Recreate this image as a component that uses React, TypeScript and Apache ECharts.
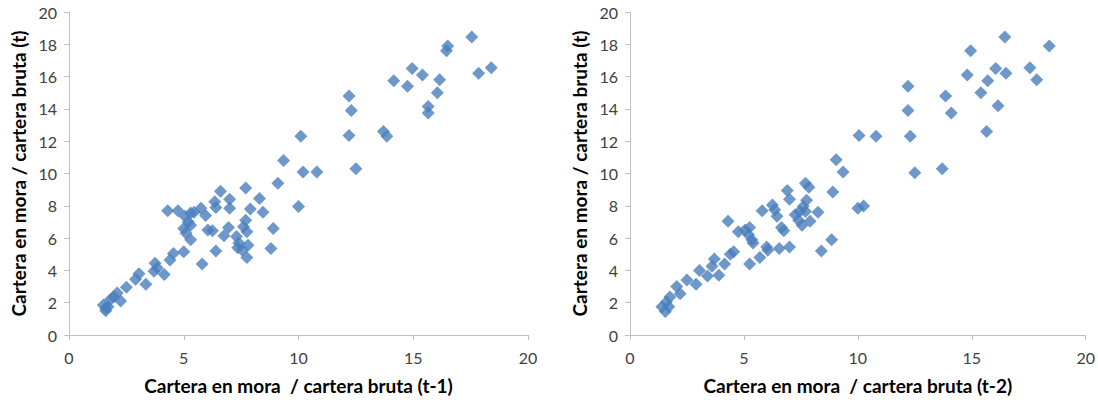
import React, { useEffect, useRef } from "react";
import * as echarts from "echarts";

const xTickLabels = ["0", "5", "10", "15", "20"];
const yTitle = "Cartera en mora / cartera bruta (t)";
const xTitleLag1 = "Cartera en mora  / cartera bruta (t-1)";
const xTitleLag2 = "Cartera en mora  / cartera bruta (t-2)";

// [x, y] pairs (t-1)
const lag1Points: [number, number][] = [
  [1.5, 1.85], [1.6, 1.5], [1.7, 1.75], [1.6, 1.65], [1.8, 2.2], [1.95, 2.35], [2.1, 2.6], [2.25, 2.1],
  [2.5, 2.95], [2.9, 3.45], [3.05, 3.8], [3.35, 3.15], [3.7, 3.95], [3.75, 4.45], [3.85, 4.15], [4.15, 3.75],
  [4.4, 4.65], [4.55, 5.05], [5.0, 5.15], [4.3, 7.7], [4.75, 7.7],
  [5.05, 7.35], [5.3, 7.55], [5.45, 7.6], [5.75, 7.85], [5.95, 7.4], [5.2, 7.0], [5.3, 6.8], [5.0, 6.6],
  [5.1, 6.3], [5.3, 5.9], [5.8, 4.4], [6.05, 6.5], [6.25, 6.45], [6.35, 8.25], [6.4, 7.9], [6.6, 8.9],
  [6.4, 5.2], [6.75, 6.15], [6.95, 6.65], [7.0, 8.4], [7.0, 7.85], [7.7, 9.1], [7.7, 7.1], [7.6, 6.7],
  [7.75, 6.4], [7.3, 6.1], [7.4, 5.7], [7.8, 5.55], [7.35, 5.4], [7.55, 5.25], [7.75, 4.8], [7.9, 7.8],
  [8.3, 8.45], [8.45, 7.6], [8.9, 6.6], [8.8, 5.35], [9.1, 9.4], [9.35, 10.8], [10.0, 7.95], [10.1, 12.3],
  [10.2, 10.1], [10.8, 10.1],
  [12.2, 14.8], [12.3, 13.9], [12.2, 12.35], [12.5, 10.3], [13.7, 12.6], [13.85, 12.3], [14.15, 15.75],
  [14.75, 15.4], [14.95, 16.5], [15.4, 16.1], [15.65, 14.15], [15.65, 13.75], [16.05, 15.0], [16.15, 15.8],
  [16.45, 17.6], [16.5, 17.9], [17.55, 18.45], [17.85, 16.2], [18.4, 16.55],
];

// [x, y] pairs (t-2)
const lag2Points: [number, number][] = [
  [1.4, 1.75], [1.55, 1.45], [1.7, 1.75], [1.6, 2.05], [1.75, 2.35], [2.05, 3.0], [2.2, 2.55], [2.5, 3.4],
  [2.9, 3.15], [3.05, 4.0], [3.4, 3.65], [3.6, 4.25], [3.7, 4.7], [3.9, 3.7], [4.15, 4.4], [4.4, 5.0],
  [4.55, 5.15], [4.3, 7.05], [4.75, 6.4], [5.05, 6.5], [5.25, 6.65], [5.2, 6.2], [5.35, 5.9], [5.4, 5.7],
  [5.25, 4.4], [5.7, 4.8], [6.0, 5.45], [6.05, 5.25], [5.8, 7.7], [6.25, 8.05], [6.35, 7.75], [6.45, 7.35],
  [6.55, 5.35], [6.65, 6.65], [6.75, 6.45], [7.0, 5.45], [6.9, 8.95], [7.0, 8.4], [7.25, 7.45], [7.4, 7.1],
  [7.45, 7.65], [7.55, 6.8], [7.6, 7.95], [7.7, 7.65], [7.75, 8.35], [7.7, 9.4], [7.85, 9.15], [7.9, 7.05],
  [8.25, 7.6], [8.4, 5.2], [8.85, 5.9], [8.9, 8.85], [9.05, 10.85], [9.35, 10.1], [10.0, 7.85], [10.25, 7.98],
  [10.05, 12.35], [10.8, 12.3],
  [12.2, 15.4], [12.2, 13.9], [12.3, 12.3], [12.5, 10.05], [13.7, 10.3], [13.85, 14.8], [14.1, 13.75],
  [14.95, 17.6], [14.8, 16.1], [15.4, 15.0], [15.7, 15.75], [15.65, 12.6], [16.05, 16.5], [16.5, 16.2],
  [16.45, 18.45], [16.15, 14.2], [17.55, 16.55], [17.85, 15.8], [18.4, 17.9],
];

const FONT = "Lato, 'Open Sans', sans-serif";
const AXIS_COLOR = "#c0c0c0";
const LABEL_COLOR = "#404040";
const MARKER_COLOR = "#4a7ebb";

function makeXAxis(gridIndex: number, name: string) {
  return {
    type: "value",
    gridIndex,
    min: 0,
    max: 20,
    interval: 5,
    name,
    nameLocation: "middle",
    nameGap: 41,
    nameTextStyle: { fontFamily: FONT, fontSize: 19, fontWeight: "bold", color: "#000" },
    axisLine: { show: true, onZero: false, lineStyle: { color: AXIS_COLOR, width: 1 } },
    axisTick: { show: true, inside: false, length: 5, lineStyle: { color: AXIS_COLOR } },
    axisLabel: {
      fontFamily: FONT,
      fontSize: 16,
      color: LABEL_COLOR,
      margin: 14,
      formatter: (v: number) => xTickLabels[Math.round(v / 5)] ?? String(v),
    },
    splitLine: { show: false },
  };
}

function makeYAxis(gridIndex: number) {
  return {
    type: "value",
    gridIndex,
    min: 0,
    max: 20,
    interval: 2,
    name: yTitle,
    nameLocation: "middle",
    nameGap: 41,
    nameRotate: 90,
    nameTextStyle: { fontFamily: FONT, fontSize: 19, fontWeight: "bold", color: "#000" },
    axisLine: { show: true, onZero: false, lineStyle: { color: AXIS_COLOR, width: 1 } },
    axisTick: { show: true, inside: false, length: 5, lineStyle: { color: AXIS_COLOR } },
    axisLabel: { fontFamily: FONT, fontSize: 16, color: LABEL_COLOR, margin: 12 },
    splitLine: { show: false },
  };
}

export default function App() {
  const ref = useRef<HTMLDivElement>(null);

  useEffect(() => {
    document.body.style.margin = "0";
    if (!ref.current) return;
    const chart = echarts.init(ref.current, null, { renderer: "svg" });
    chart.setOption({
      animation: false,
      backgroundColor: "#ffffff",
      grid: [
        { left: 69, top: 12, width: 459, height: 323 },
        { left: 630, top: 12, width: 458, height: 323 },
      ],
      xAxis: [makeXAxis(0, xTitleLag1), makeXAxis(1, xTitleLag2)],
      yAxis: [makeYAxis(0), makeYAxis(1)],
      series: [
        {
          type: "scatter",
          xAxisIndex: 0,
          yAxisIndex: 0,
          data: lag1Points,
          symbol: "diamond",
          symbolSize: 13,
          itemStyle: { color: MARKER_COLOR },
        },
        {
          type: "scatter",
          xAxisIndex: 1,
          yAxisIndex: 1,
          data: lag2Points,
          symbol: "diamond",
          symbolSize: 13,
          itemStyle: { color: MARKER_COLOR },
        },
      ],
    });
    return () => chart.dispose();
  }, []);

  return (
    <div
      ref={ref}
      style={{ position: "absolute", left: 0, top: 0, width: 1098, height: 400 }}
    />
  );
}
